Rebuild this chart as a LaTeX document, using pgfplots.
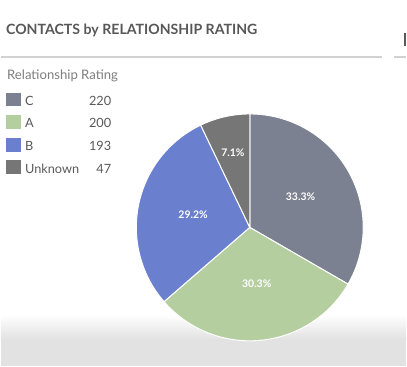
\documentclass[border=0pt]{standalone}
\usepackage{pgfplots}
\usepackage{pgfplotstable}
\pgfplotsset{compat=1.18}
\usepackage{fontspec}
\setmainfont{Lato}
\definecolor{cC}{HTML}{7B8190}
\definecolor{cA}{HTML}{B5CEA0}
\definecolor{cB}{HTML}{6A7FCD}
\definecolor{cU}{HTML}{767676}
\definecolor{titlegray}{HTML}{585858}
\definecolor{hdrgray}{HTML}{7E7E7E}
\definecolor{txtgray}{HTML}{5A5A5A}
\definecolor{rulegray}{HTML}{D2D2D2}
\definecolor{botgray}{HTML}{E2E2E2}

\pgfplotstableread{
label value
C 220
A 200
B 193
Unknown 47
}\pietable

\pgfplotstablegetelem{0}{value}\of\pietable \let\vC\pgfplotsretval
\pgfplotstablegetelem{1}{value}\of\pietable \let\vA\pgfplotsretval
\pgfplotstablegetelem{2}{value}\of\pietable \let\vB\pgfplotsretval
\pgfplotstablegetelem{3}{value}\of\pietable \let\vU\pgfplotsretval

\pgfmathsetmacro\total{\vC+\vA+\vB+\vU}
\pgfmathsetmacro\aZero{90}
\pgfmathsetmacro\aOne{90-360*(\vC/\total)}
\pgfmathsetmacro\aTwo{\aOne-360*(\vA/\total)}
\pgfmathsetmacro\aThree{\aTwo-360*(\vB/\total)}
\pgfmathsetmacro\aFour{\aThree-360*(\vU/\total)}
\def\cx{250}
\def\cy{139.5}
\def\R{114}

\begin{document}
\begin{tikzpicture}[x=1pt,y=1pt]
% background
\fill[white] (0,0) rectangle (407,368);
\fill[botgray] (0,0) rectangle (407,27);
\shade[top color=white,bottom color=botgray] (0,27) rectangle (407,52);
% title and rule
\node[anchor=base west, text=titlegray, font=\bfseries\fontsize{14.2}{15}\selectfont, inner sep=0pt] at (5,333) {CONTACTS by RELATIONSHIP RATING};
\draw[rulegray, line width=2pt] (0,311) -- (383,311);
\draw[rulegray, line width=2pt] (395,311) -- (407,311);
\fill[titlegray] (404.5,322) rectangle (407,335);
% legend
\node[anchor=base west, text=hdrgray, font=\fontsize{13.2}{14}\selectfont, inner sep=0pt] at (6,288) {Relationship Rating};
\foreach \i/\lab/\val/\col in {0/C/220/cC,1/A/200/cA,2/B/193/cB,3/Unknown/47/cU}{
  \pgfmathsetmacro\yy{368-93-\i*22.7}
  \fill[\col] (5,\yy) rectangle (20.5,\yy-14);
  \node[anchor=base west, text=txtgray, font=\fontsize{12.8}{13}\selectfont, inner sep=0pt] at (24,\yy-12.8) {\lab};
  \node[anchor=base east, text=txtgray, font=\fontsize{12.8}{13}\selectfont, inner sep=0pt] at (111,\yy-12.8) {\val};
}
\begin{axis}[x=1pt,y=1pt,xmin=0,xmax=407,ymin=0,ymax=368,
  hide axis, clip=false, scale only axis, at={(0,0)}, anchor=origin]
% pie slices
\addplot[fill=cC, draw=white, line width=1pt, domain=\aOne:\aZero, samples=80, variable=\t]
  ({\cx+\R*cos(\t)},{\cy+\R*sin(\t)}) -- (axis cs:\cx,\cy) -- cycle;
\addplot[fill=cA, draw=white, line width=1pt, domain=\aTwo:\aOne, samples=80, variable=\t]
  ({\cx+\R*cos(\t)},{\cy+\R*sin(\t)}) -- (axis cs:\cx,\cy) -- cycle;
\addplot[fill=cB, draw=white, line width=1pt, domain=\aThree:\aTwo, samples=80, variable=\t]
  ({\cx+\R*cos(\t)},{\cy+\R*sin(\t)}) -- (axis cs:\cx,\cy) -- cycle;
\addplot[fill=cU, draw=white, line width=1pt, domain=\aFour:\aThree, samples=30, variable=\t]
  ({\cx+\R*cos(\t)},{\cy+\R*sin(\t)}) -- (axis cs:\cx,\cy) -- cycle;
% percentage labels
\node[text=white, font=\bfseries\fontsize{10.5}{11}\selectfont] at (axis cs:301,170) {33.3\%};
\node[text=white, font=\bfseries\fontsize{10.5}{11}\selectfont] at (axis cs:257,83) {30.3\%};
\node[text=white, font=\bfseries\fontsize{10.5}{11}\selectfont] at (axis cs:193,152) {29.2\%};
\node[text=white, font=\bfseries\fontsize{10.5}{11}\selectfont] at (axis cs:233,215) {7.1\%};
\end{axis}
\end{tikzpicture}
\end{document}
